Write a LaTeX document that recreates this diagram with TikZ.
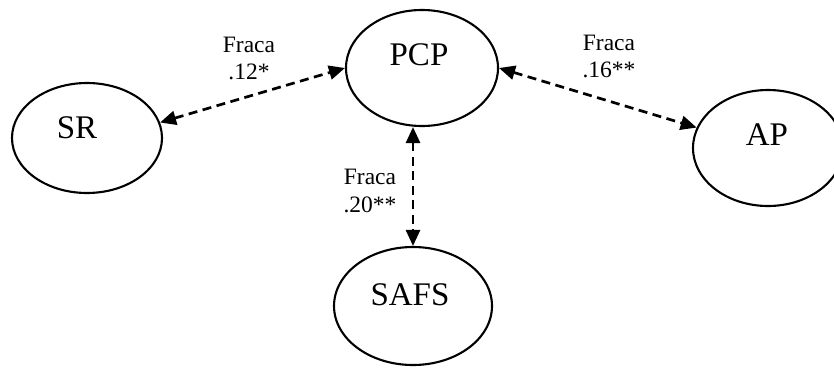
\documentclass[tikz,border=0pt]{standalone}
\usepackage{fontspec}
\setmainfont{Liberation Serif}
\usetikzlibrary{shapes.geometric,arrows.meta}
\begin{document}
\begin{tikzpicture}[x=1pt,y=-1pt,
 latent/.style={ellipse,draw,line width=2.1pt,inner sep=0pt},
 bigtxt/.style={font=\fontsize{33}{38}\selectfont,inner sep=0pt},
 lbl/.style={font=\fontsize{23.5}{27}\selectfont,inner sep=0pt,anchor=base},
 corr/.style={line width=2.7pt,dash pattern=on 9pt off 5.5pt,{Triangle[length=16pt,width=14pt]}-{Triangle[length=16pt,width=14pt]}}]
\useasboundingbox (0,0) rectangle (834,367);
\clip (0,0) rectangle (834,367);
\node[latent,minimum width=150pt,minimum height=110pt] (sr) at (87,138) {};
\node[latent,minimum width=152pt,minimum height=116pt] (pcp) at (422,68) {};
\node[latent,minimum width=150pt,minimum height=116pt] (ap) at (768,148) {};
\node[latent,minimum width=158pt,minimum height=118pt] (safs) at (413,306) {};
\node[bigtxt] (tsr) at (77,128) {SR};
\node[bigtxt] (tpcp) at (419,55) {PCP};
\node[bigtxt] (tap) at (767,135) {AP};
\node[bigtxt] (tsafs) at (410,295) {SAFS};
\node[lbl] (l1a) at (249,52) {Fraca};
\node[lbl] (l1b) at (249,79) {.12*};
\node[lbl] (l2a) at (609,50) {Fraca};
\node[lbl] (l2b) at (609,77) {.16**};
\node[lbl] (l3a) at (370,184) {Fraca};
\node[lbl] (l3b) at (370,212) {.20**};
\draw[corr] (sr.12) -- (pcp.west);
\draw[corr] (pcp.east) -- (ap.164);
\draw[corr] (pcp.south -| safs.north) -- (safs.north);
\end{tikzpicture}
\end{document}
